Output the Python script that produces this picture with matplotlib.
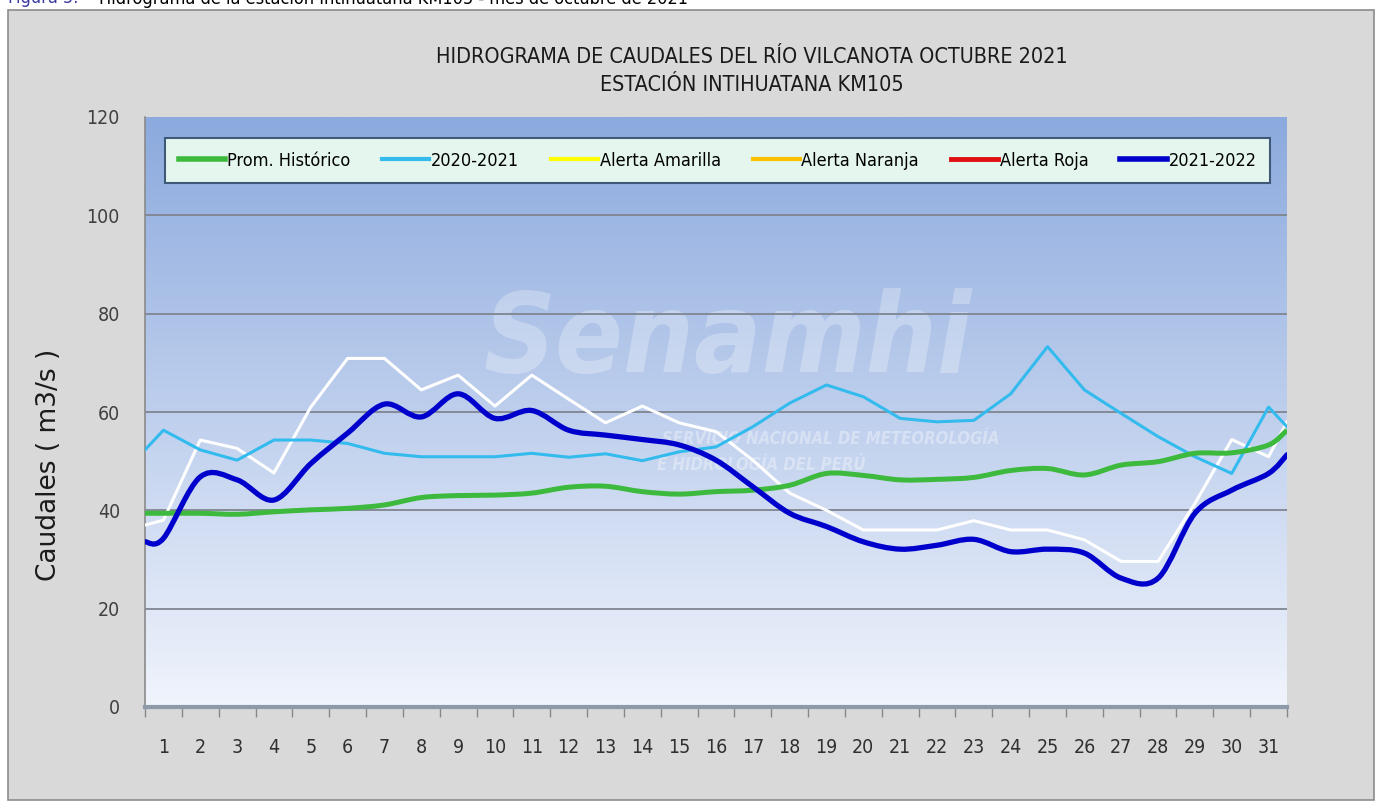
import matplotlib.pyplot as plt
import numpy as np
from matplotlib.lines import Line2D
from matplotlib.patches import Rectangle, PathPatch
from matplotlib.path import Path

# ====== DATA ====== #
days = list(range(1, 32))
day_labels = [str(d) for d in days]

prom_historico = [39.4, 39.4, 39.2, 39.7, 40.1, 40.4, 41.1, 42.6, 43.0, 43.1,
                  43.5, 44.7, 44.9, 43.8, 43.3, 43.8, 44.1, 45.1, 47.5, 47.1,
                  46.2, 46.3, 46.7, 48.1, 48.5, 47.2, 49.2, 49.9, 51.6, 51.7, 53.3]
q_2020_2021 = [56.3, 52.3, 50.2, 54.3, 54.3, 53.6, 51.6, 50.9, 50.9, 50.9,
               51.6, 50.8, 51.5, 50.1, 51.9, 52.9, 57.0, 61.8, 65.5, 63.1,
               58.7, 58.0, 58.3, 63.7, 73.3, 64.5, 59.7, 55.0, 50.9, 47.5, 61.0]
q_otro = [38.0, 54.3, 52.6, 47.6, 61.0, 70.9, 70.9, 64.5, 67.5, 61.2,
          67.5, 62.6, 57.8, 61.2, 57.8, 56.0, 50.2, 43.5, 40.0, 36.0,
          36.0, 36.0, 37.9, 36.0, 36.0, 34.0, 29.6, 29.6, 41.4, 54.4, 50.9]
q_2021_2022 = [34.3, 46.8, 46.2, 42.1, 49.5, 55.7, 61.6, 59.0, 63.7, 58.7,
               60.3, 56.3, 55.3, 54.4, 53.3, 50.2, 44.8, 39.4, 36.7, 33.6,
               32.1, 32.9, 34.1, 31.6, 32.1, 31.3, 26.2, 26.2, 39.4, 44.1, 47.5]

# values where the lines meet the left / right edge of the plot
edge_start = {"prom": 39.4, "q20": 52.3, "otro": 37.0, "q21": 33.6}
edge_end = {"prom": 56.3, "q20": 57.0, "otro": 58.0, "q21": 51.3}

title = "HIDROGRAMA DE CAUDALES DEL RÍO VILCANOTA OCTUBRE 2021\nESTACIÓN INTIHUATANA KM105"


def smooth_path(x, y):
    """Catmull-Rom style bezier path through the points (like Excel smoothed lines)."""
    pts = np.column_stack([x, y])
    verts = [pts[0]]
    codes = [Path.MOVETO]
    n = len(pts)
    for i in range(n - 1):
        p0 = pts[i - 1] if i > 0 else pts[i]
        p1 = pts[i]
        p2 = pts[i + 1]
        p3 = pts[i + 2] if i + 2 < n else pts[i + 1]
        c1 = p1 + (p2 - p0) / 6.0
        c2 = p2 - (p3 - p1) / 6.0
        verts += [c1, c2, p2]
        codes += [Path.CURVE4] * 3
    return Path(verts, codes)


def with_edges(vals, key):
    x = [0.5] + days + [31.5]
    y = [edge_start[key]] + vals + [edge_end[key]]
    return np.array(x, dtype=float), np.array(y, dtype=float)


plt.rcParams['font.family'] = ['DejaVu Sans']
plt.rcParams['font.stretch'] = 'condensed'

fig = plt.figure(figsize=(13.79, 8.08), dpi=100)
fig.patch.set_facecolor('white')

# grey chart frame
fig.patches.append(Rectangle((8 / 1379, 8 / 808), 1366 / 1379, 790 / 808,
                             transform=fig.transFigure, facecolor='#d9d9d9',
                             edgecolor='#8c8c8c', linewidth=1.2, zorder=-10))

# caption cut off at the top of the image (as in the reference)
fig.text(0.006, 1.002, "Figura 5.", color='#3a3aa0', fontsize=13, va='center')
fig.text(0.072, 1.002, "Hidrograma de la estación Intihuatana KM105 - mes de octubre de 2021",
         color='black', fontsize=13, va='center')

ax = fig.add_axes([145 / 1379, 101 / 808, 1142 / 1379, 590 / 808])

# background gradient of the plot area
top = np.array([140, 170, 222]) / 255
bot = np.array([240, 244, 252]) / 255
t = np.linspace(0, 1, 256)[:, None]
grad = (top * (1 - t) + bot * t)[:, None, :].repeat(2, axis=1)
ax.imshow(grad, extent=[0, 1, 0, 1], transform=ax.transAxes, aspect='auto', zorder=0)

# faint watermark
ax.text(0.51, 0.62, "Senamhi", transform=ax.transAxes, fontsize=80, fontweight='bold',
        style='italic', color='white', alpha=0.28, ha='center', va='center', zorder=1)
ax.text(0.60, 0.455, "SERVICIO NACIONAL DE METEOROLOGÍA", transform=ax.transAxes,
        fontsize=12, fontweight='bold', style='italic', color='white', alpha=0.35,
        ha='center', va='center', zorder=1)
ax.text(0.54, 0.41, "E HIDROLOGÍA DEL PERÚ", transform=ax.transAxes,
        fontsize=12, fontweight='bold', style='italic', color='white', alpha=0.35,
        ha='center', va='center', zorder=1)

ax.set_xlim(0.5, 31.5)
ax.set_ylim(0, 120)
ax.set_yticks(range(0, 121, 20))
for yv in range(20, 101, 20):
    ax.axhline(yv, color='#7f8590', linewidth=1.3, zorder=2)

# series
x, y = with_edges(q_otro, "otro")
ax.plot(x, y, color='white', linewidth=2.2, zorder=3)
x, y = with_edges(q_2020_2021, "q20")
ax.plot(x, y, color='#33bbee', linewidth=2.2, zorder=4)
x, y = with_edges(prom_historico, "prom")
ax.add_patch(PathPatch(smooth_path(x, y), facecolor='none', edgecolor='#3dba3d',
                       linewidth=3.6, zorder=5))
x, y = with_edges(q_2021_2022, "q21")
ax.add_patch(PathPatch(smooth_path(x, y), facecolor='none', edgecolor='#0000cc',
                       linewidth=3.8, zorder=6, capstyle='round'))

# axes styling
ax.set_xticks(days, day_labels)
ax.set_xticks(np.arange(0.5, 32, 1), minor=True)
ax.tick_params(axis='x', which='major', length=0, pad=22, labelsize=14, colors='#303030')
ax.tick_params(axis='x', which='minor', length=7, color='#888888', width=1)
ax.tick_params(axis='y', length=0, pad=18, labelsize=14, colors='#404040')
for s in ['top', 'right']:
    ax.spines[s].set_visible(False)
ax.spines['left'].set_color('#8a8a8a')
ax.spines['left'].set_linewidth(1.2)
ax.spines['bottom'].set_color('#8f9aa8')
ax.spines['bottom'].set_linewidth(3)
ax.set_ylabel("Caudales ( m3/s )", fontsize=19, color='#1a1a1a', fontweight='medium',
              fontstretch='normal')
ax.yaxis.set_label_coords(-0.073, 0.41)

fig.text(0.545, 0.912, title, ha='center', va='center', fontsize=15.5,
         linespacing=1.5, color='#1a1a1a')

# legend
handles = [
    Line2D([], [], color='#3dba3d', linewidth=4),
    Line2D([], [], color='#33bbee', linewidth=3),
    Line2D([], [], color='#ffff00', linewidth=3),
    Line2D([], [], color='#ffc000', linewidth=3),
    Line2D([], [], color='#e01010', linewidth=3.5),
    Line2D([], [], color='#0000cc', linewidth=4),
]
labels = ["Prom. Histórico", "2020-2021", "Alerta Amarilla", "Alerta Naranja",
          "Alerta Roja", "2021-2022"]
leg = ax.legend(handles, labels, loc='lower left', ncols=6, mode='expand',
                bbox_to_anchor=(0.0175, 0.888, 0.968, 0.095), fontsize=13,
                frameon=True, fancybox=False, handlelength=2.6, handletextpad=0.1,
                borderaxespad=0, borderpad=0.75, columnspacing=1.0)
leg.get_frame().set_facecolor('#e4f6ee')
leg.get_frame().set_edgecolor('#3f5a78')
leg.get_frame().set_linewidth(1.5)
leg.get_frame().set_alpha(1)
leg.set_zorder(10)

fig.savefig('out.png', dpi=100)
